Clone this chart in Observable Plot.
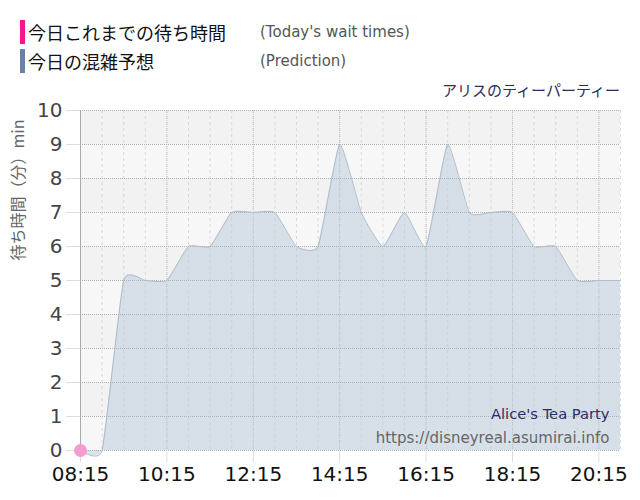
<!DOCTYPE html>
<html>
<head>
<meta charset="utf-8">
<script src="https://cdn.jsdelivr.net/npm/d3@7"></script>
<script src="https://cdn.jsdelivr.net/npm/@observablehq/plot@0.6"></script>
<style>
  body { margin: 0; background: #fff; font-family: "DejaVu Sans", "Noto Sans CJK JP", sans-serif; }
  #wrap { position: relative; width: 640px; height: 500px; }
  .leg { position: absolute; left: 20px; height: 24px; display: flex; align-items: center; }
  .bar { width: 5px; height: 24px; margin-right: 3px; }
  .jp { font-family: "Noto Sans CJK JP", sans-serif; font-size: 18px; color: #111; width: 232px; }
  .en { font-family: "DejaVu Sans", sans-serif; font-size: 15px; color: #555; }
  #title { position: absolute; right: 20px; top: 79px; font-family: "Noto Sans CJK JP", sans-serif; font-size: 15px; color: #2b2d5e; }
  #chart { position: absolute; left: 0; top: 80px; }
</style>
</head>
<body>
<div id="wrap">
  <div class="leg" style="top:20px"><div class="bar" style="background:#f5158e"></div><span class="jp">今日これまでの待ち時間</span><span class="en">(Today's wait times)</span></div>
  <div class="leg" style="top:49px"><div class="bar" style="background:#6a80a8"></div><span class="jp">今日の混雑予想</span><span class="en">(Prediction)</span></div>
  <div id="title">アリスのティーパーティー</div>
  <div id="chart"></div>
</div>
<script>
// Data
const times = ["08:15","08:45","09:15","09:45","10:15","10:45","11:15","11:45","12:15","12:45","13:15","13:45","14:15","14:45","15:15","15:45","16:15","16:45","17:15","17:45","18:15","18:45","19:15","19:45","20:15","20:45"];
const prediction = [0,0,5,5,5,6,6,7,7,7,6,6,9,7,6,7,6,9,7,7,7,6,6,5,5,5];
const todayTimes = ["08:15"];
const todayValues = [0];
const xTickLabels = ["08:15","10:15","12:15","14:15","16:15","18:15","20:15"];
const yTicks = [0,1,2,3,4,5,6,7,8,9,10];
const darkBands = [1,3,5,7,9];
const lightBands = [0,2,4,6,8];

const parse = d3.timeParse("%H:%M");
const predData = times.map((t, i) => ({t: parse(t), v: prediction[i]}));
const todayData = todayTimes.map((t, i) => ({t: parse(t), v: todayValues[i]}));
const xTicks = xTickLabels.map(parse);
const minorTicks = times.map(parse);
const domain = [parse(times[0]), parse(times[times.length - 1])];
const curve = "cardinal";
const tension = 0.55;

const chart = Plot.plot({
  width: 640,
  height: 420,
  marginLeft: 80,
  marginRight: 20,
  marginTop: 30,
  marginBottom: 50,
  style: { fontFamily: "DejaVu Sans, Noto Sans CJK JP, sans-serif", background: "transparent" },
  x: { type: "time", domain },
  y: { domain: [0, 10] },
  marks: [
    Plot.rect(darkBands, { x1: domain[0], x2: domain[1], y1: d => d, y2: d => d + 1, fill: "#f2f2f2" }),
    Plot.rect(lightBands, { x1: domain[0], x2: domain[1], y1: d => d, y2: d => d + 1, fill: "#f7f7f7" }),
    Plot.areaY(predData, { x: "t", y: "v", curve, tension, fill: "#c9d6e3", fillOpacity: 0.7 }),
    Plot.ruleX(minorTicks, { stroke: "#c8c8c8", strokeOpacity: 0.6, strokeDasharray: "3,3" }),
    Plot.ruleX(xTicks, { stroke: "#bbb", strokeOpacity: 0.8, strokeDasharray: "1,1" }),
    Plot.ruleY(yTicks, { stroke: "#b0b0b0", strokeDasharray: "1,1" }),
    Plot.lineY(predData, { x: "t", y: "v", curve, tension, stroke: "#aebccb", strokeWidth: 1 }),
    Plot.axisY({ ticks: yTicks, tickSize: 14, tickPadding: 4, stroke: "#ddd", fill: "#444", fontSize: 20, label: null }),
    Plot.axisX({ ticks: xTicks, tickFormat: d3.timeFormat("%H:%M"), tickSize: 12, tickPadding: 4, stroke: "#ddd", fill: "#111", fontSize: 20, label: null }),
    Plot.ruleX([domain[0]], { stroke: "#aaa", strokeWidth: 1 }),
    Plot.dot(todayData, { x: "t", y: "v", r: 6.5, fill: "#f49bd0", stroke: null }),
    Plot.text(["待ち時間（分）min"], { frameAnchor: "left", rotate: -90, dx: -62, dy: -20, text: d => d, fontSize: 16, fill: "#666", fontFamily: "Noto Sans CJK JP, sans-serif" }),
    Plot.text(["Alice's Tea Party"], { frameAnchor: "bottom-right", textAnchor: "end", dx: -11, dy: -32, text: d => d, fontSize: 14.7, fill: "#2b2d6a" }),
    Plot.text(["https://disneyreal.asumirai.info"], { frameAnchor: "bottom-right", textAnchor: "end", dx: -11, dy: -8, text: d => d, fontSize: 15, fill: "#666" })
  ]
});
document.getElementById("chart").appendChild(chart);
</script>
</body>
</html>
